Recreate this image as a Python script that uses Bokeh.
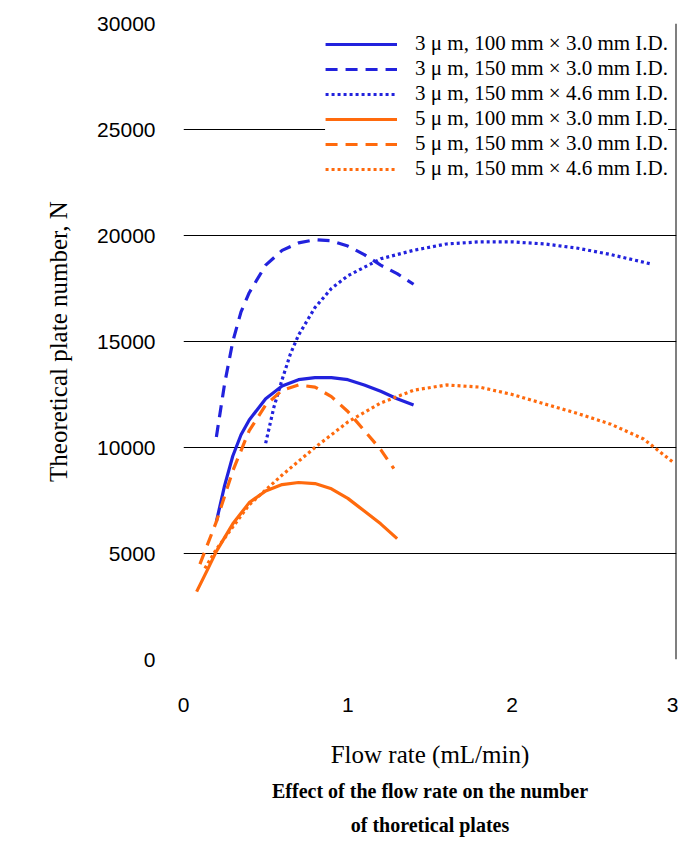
from bokeh.plotting import figure
from bokeh.models import Legend, LegendItem, Title, FixedTicker
from bokeh.embed import file_html
from bokeh.resources import INLINE

# 3 um columns
x_3_100_30 = [0.2, 0.25, 0.3, 0.35, 0.4, 0.5, 0.6, 0.7, 0.8, 0.9, 1.0, 1.1, 1.2, 1.3, 1.4]
y_3_100_30 = [6500, 8200, 9600, 10600, 11300, 12300, 12900, 13200, 13300, 13300, 13200, 12950, 12650, 12300, 12000]
x_3_150_30 = [0.2, 0.25, 0.3, 0.35, 0.4, 0.5, 0.6, 0.7, 0.8, 0.9, 1.0, 1.1, 1.2, 1.3, 1.4]
y_3_150_30 = [10500, 13000, 15000, 16400, 17300, 18600, 19300, 19650, 19800, 19750, 19500, 19100, 18600, 18200, 17700]
x_3_150_46 = [0.5, 0.55, 0.6, 0.65, 0.7, 0.8, 0.9, 1.0, 1.2, 1.4, 1.6, 1.8, 2.0, 2.2, 2.4, 2.6, 2.85]
y_3_150_46 = [10200, 11900, 13200, 14400, 15300, 16600, 17500, 18100, 18900, 19300, 19600, 19700, 19700, 19600, 19400, 19100, 18650]
# 5 um columns
x_5_100_30 = [0.08, 0.15, 0.2, 0.3, 0.4, 0.5, 0.6, 0.7, 0.8, 0.9, 1.0, 1.1, 1.2, 1.3]
y_5_100_30 = [3200, 4300, 5100, 6400, 7400, 7950, 8250, 8350, 8300, 8050, 7600, 7000, 6400, 5700]
x_5_150_30 = [0.1, 0.2, 0.3, 0.4, 0.5, 0.6, 0.7, 0.8, 0.9, 1.0, 1.1, 1.2, 1.28]
y_5_150_30 = [4500, 6500, 8900, 10800, 12000, 12700, 12950, 12850, 12400, 11700, 10800, 9900, 9000]
x_5_150_46 = [0.13, 0.2, 0.4, 0.6, 0.8, 1.0, 1.2, 1.4, 1.6, 1.8, 2.0, 2.2, 2.4, 2.6, 2.8, 2.98]
y_5_150_46 = [4300, 5200, 7300, 8700, 10000, 11200, 12100, 12700, 12950, 12850, 12500, 12050, 11600, 11100, 10400, 9300]

labels = [
    "3 \u03bc m, 100 mm \u00d7 3.0 mm I.D.",
    "3 \u03bc m, 150 mm \u00d7 3.0 mm I.D.",
    "3 \u03bc m, 150 mm \u00d7 4.6 mm I.D.",
    "5 \u03bc m, 100 mm \u00d7 3.0 mm I.D.",
    "5 \u03bc m, 150 mm \u00d7 3.0 mm I.D.",
    "5 \u03bc m, 150 mm \u00d7 4.6 mm I.D.",
]

BLUE = "#2222dd"
ORANGE = "#ff6a0d"
SERIF = "Liberation Serif"
SANS = "Liberation Sans"

p = figure(width=678, height=838, output_backend="svg", toolbar_location=None,
           x_range=(0, 3), y_range=(0, 30000),
           min_border_left=183, min_border_right=2, min_border_top=23, min_border_bottom=60)
p.outline_line_color = None
p.xgrid.visible = False
p.ygrid.grid_line_color = "#000000"
p.ygrid.grid_line_width = 1

series = [
    (x_3_100_30, y_3_100_30, BLUE, "solid"),
    (x_3_150_30, y_3_150_30, BLUE, "12 8"),
    (x_3_150_46, y_3_150_46, BLUE, "3 3"),
    (x_5_100_30, y_5_100_30, ORANGE, "solid"),
    (x_5_150_30, y_5_150_30, ORANGE, "12 8"),
    (x_5_150_46, y_5_150_46, ORANGE, "3 3"),
]
items = []
for (xs, ys, c, d), lab in zip(series, labels):
    r = p.line(xs, ys, line_color=c, line_width=3.2, line_dash=d, line_join="round")
    items.append(LegendItem(label=lab, renderers=[r]))

# right frame border
p.line([3, 3], [0, 30000], line_color="#000000", line_width=2)

legend = Legend(items=items, location="top_right", spacing=-5, padding=4,
                glyph_width=72, label_standoff=18, margin=8,
                label_text_font=SERIF, label_text_font_size="21px",
                label_text_color="#000000",
                border_line_color=None, background_fill_alpha=1.0)
p.add_layout(legend)

for ax in (p.xaxis[0], p.yaxis[0]):
    ax.axis_line_color = None
    ax.major_tick_line_color = None
    ax.minor_tick_line_color = None
    ax.major_label_text_font = SANS
    ax.major_label_text_font_size = "21px"
    ax.major_label_text_color = "#000000"
    ax.axis_label_text_font = SERIF
    ax.axis_label_text_font_style = "normal"
    ax.axis_label_text_font_size = "25px"
    ax.axis_label_text_color = "#000000"

p.xaxis.ticker = FixedTicker(ticks=[0, 1, 2, 3])
p.yaxis.ticker = FixedTicker(ticks=list(range(0, 30001, 5000)))
p.xaxis.major_label_standoff = 32
p.yaxis.major_label_standoff = 22
p.xaxis.axis_label = "Flow rate (mL/min)"
p.xaxis.axis_label_standoff = 26
p.yaxis.axis_label = "Theoretical plate number, N"
p.yaxis.axis_label_standoff = 22

for txt, so in [("Effect of the flow rate on the number", 14), ("of thoretical plates", 6)]:
    p.add_layout(Title(text=txt, align="center", text_font=SERIF, text_font_size="20px",
                       text_font_style="bold", text_color="#000000", standoff=so), "below")

open("out.html", "w").write(file_html(p, INLINE))
